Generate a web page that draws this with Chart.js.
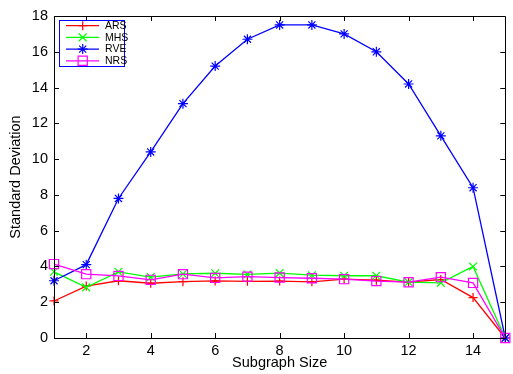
<!DOCTYPE html>
<html>
<head>
<meta charset="utf-8">
<script src="https://cdn.jsdelivr.net/npm/chart.js@4/dist/chart.umd.min.js"></script>
<style>
  html, body { margin: 0; padding: 0; background: #fff; }
  #wrap { width: 513px; height: 374px; }
</style>
</head>
<body>
<div id="wrap"><canvas id="myChart" width="513" height="374"></canvas></div>
<script>
// subgraph sizes
var sizes = [1, 2, 3, 4, 5, 6, 7, 8, 9, 10, 11, 12, 13, 14, 15];
var ars = [2.07, 2.9, 3.2, 3.06, 3.15, 3.19, 3.17, 3.18, 3.14, 3.29, 3.23, 3.12, 3.27, 2.26, 0];
var mhs = [3.7, 2.83, 3.7, 3.4, 3.58, 3.62, 3.56, 3.63, 3.51, 3.48, 3.48, 3.12, 3.08, 4.0, 0];
var rve = [3.2, 4.1, 7.8, 10.4, 13.1, 15.2, 16.7, 17.5, 17.5, 17.0, 16.0, 14.2, 11.3, 8.4, 0];
var nrs = [4.13, 3.57, 3.47, 3.25, 3.57, 3.36, 3.43, 3.38, 3.34, 3.29, 3.18, 3.12, 3.4, 3.08, 0];
var xTicks = [2, 4, 6, 8, 10, 12, 14];
var yTicks = [0, 2, 4, 6, 8, 10, 12, 14, 16, 18];

var fontFam = '"Liberation Sans", Arial, sans-serif';

function pts(vals) {
  return sizes.map(function (s, i) { return { x: s, y: vals[i] }; });
}

var series = [
  { label: 'ARS', data: ars, color: '#ff0000', style: 'cross', r: 4.5, order: 4 },
  { label: 'MHS', data: mhs, color: '#00ff00', style: 'crossRot', r: 5.5, order: 3 },
  { label: 'RVE', data: rve, color: '#0000ff', style: 'star', r: 5, order: 2 },
  { label: 'NRS', data: nrs, color: '#ff00ff', style: 'rect', r: 6.5, order: 1 }
];

// box, inward ticks and legend like the matlab figure
var matlabFrame = {
  id: 'matlabFrame',
  afterDraw: function (chart) {
    var ctx = chart.ctx;
    var a = chart.chartArea;
    var xs = chart.scales.x, ys = chart.scales.y;
    ctx.save();
    ctx.strokeStyle = '#000';
    ctx.lineWidth = 1;
    ctx.beginPath();
    ctx.rect(Math.round(a.left) + 0.5, Math.round(a.top) + 0.5, Math.round(a.right - a.left), Math.round(a.bottom - a.top));
    xTicks.forEach(function (t) {
      var px = Math.round(xs.getPixelForValue(t)) + 0.5;
      ctx.moveTo(px, a.bottom); ctx.lineTo(px, a.bottom - 5);
      ctx.moveTo(px, a.top); ctx.lineTo(px, a.top + 5);
    });
    yTicks.forEach(function (t) {
      var py = Math.round(ys.getPixelForValue(t)) + 0.5;
      ctx.moveTo(a.left, py); ctx.lineTo(a.left + 5, py);
      ctx.moveTo(a.right, py); ctx.lineTo(a.right - 5, py);
    });
    ctx.stroke();

    // legend box
    var lx = 59.5, ly = 20.5, lw = 65, lh = 46;
    ctx.fillStyle = '#fff';
    ctx.fillRect(lx, ly, lw, lh);
    ctx.strokeStyle = '#0000ff';
    ctx.strokeRect(lx, ly, lw, lh);
    ctx.textBaseline = 'middle';
    series.forEach(function (s, i) {
      var y = 25.7 + i * 11.7;
      ctx.strokeStyle = s.color;
      ctx.lineWidth = 1.2;
      ctx.beginPath();
      ctx.moveTo(66, y); ctx.lineTo(99, y);
      ctx.stroke();
      ctx.fillStyle = 'rgba(0,0,0,0)';
      Chart.helpers.drawPoint(ctx, { pointStyle: s.style, radius: s.r, borderWidth: 1.2, rotation: 0 }, 82.7, y);
      ctx.fillStyle = '#000';
      ctx.font = '10.5px ' + fontFam;
      ctx.fillText(s.label, 105, y + 0.5);
    });
    ctx.restore();
  }
};

var ctx = document.getElementById('myChart').getContext('2d');
var myChart = new Chart(ctx, {
  type: 'line',
  data: {
    datasets: series.map(function (s) {
      return {
        label: s.label,
        data: pts(s.data),
        borderColor: s.color,
        backgroundColor: 'rgba(0,0,0,0)',
        borderWidth: 1.3,
        pointStyle: s.style,
        pointRadius: s.r,
        pointBorderColor: s.color,
        pointBorderWidth: 1.2,
        pointBackgroundColor: 'rgba(0,0,0,0)',
        fill: false,
        tension: 0,
        clip: false,
        order: s.order
      };
    })
  },
  options: {
    responsive: false,
    animation: false,
    events: [],
    layout: { padding: { left: 0, right: 5, top: 16, bottom: 0 } },
    plugins: { legend: { display: false }, tooltip: { enabled: false } },
    scales: {
      x: {
        type: 'linear',
        min: 1,
        max: 15,
        grid: { display: false, drawTicks: false },
        border: { display: false },
        afterBuildTicks: function (scale) {
          scale.ticks = xTicks.map(function (v) { return { value: v }; });
        },
        afterFit: function (scale) { scale.height = 36; },
        ticks: {
          color: '#000',
          padding: 4,
          maxRotation: 0,
          autoSkip: false,
          font: { family: fontFam, size: 14.5 }
        },
        title: {
          display: true,
          text: 'Subgraph Size',
          color: '#000',
          padding: { top: 2, bottom: 2 },
          font: { family: fontFam, size: 14.5 }
        }
      },
      y: {
        min: 0,
        max: 18,
        grid: { display: false, drawTicks: false },
        border: { display: false },
        afterBuildTicks: function (scale) {
          scale.ticks = yTicks.map(function (v) { return { value: v }; });
        },
        afterFit: function (scale) { scale.width = 54; },
        ticks: {
          color: '#000',
          padding: 6,
          autoSkip: false,
          font: { family: fontFam, size: 14.5 }
        },
        title: {
          display: true,
          text: 'Standard Deviation',
          color: '#000',
          padding: { top: 7, bottom: 0 },
          font: { family: fontFam, size: 14.5 }
        }
      }
    }
  },
  plugins: [matlabFrame]
});
</script>
</body>
</html>
